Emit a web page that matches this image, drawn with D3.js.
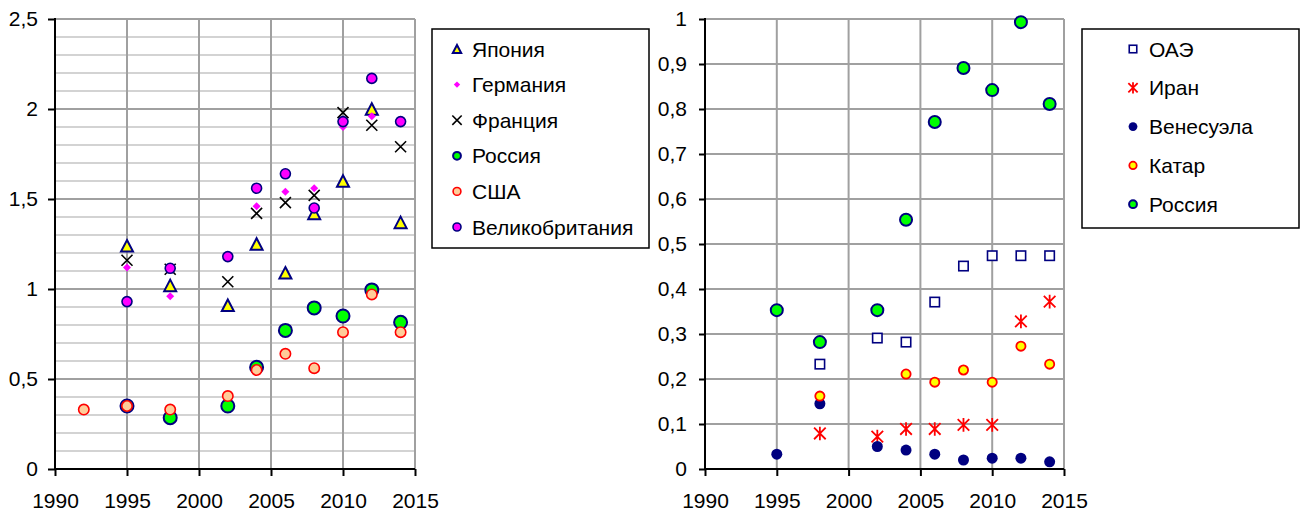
<!DOCTYPE html>
<html>
<head>
<meta charset="utf-8">
<script src="https://cdn.jsdelivr.net/npm/d3@7"></script>
<style>
  body { margin: 0; background: #fff; }
  svg { display: block; font-family: Arial, "Liberation Sans", sans-serif; }
</style>
</head>
<body>
<svg id="chart" width="1303" height="512"></svg>
<script>
// ---- data: left chart ----
const leftYears = [1992, 1995, 1998, 2002, 2004, 2006, 2008, 2010, 2012, 2014];
const japan   = [null, 1.24, 1.02, 0.91, 1.25, 1.09, 1.42, 1.60, 2.00, 1.37];
const germany = [null, 1.12, 0.96, null, 1.46, 1.54, 1.56, 1.90, 1.96, null];
const france  = [null, 1.16, 1.11, 1.04, 1.42, 1.48, 1.52, 1.98, 1.91, 1.79];
const russiaL = [null, 0.35, 0.285, 0.35, 0.565, 0.77, 0.895, 0.85, 0.995, 0.815];
const usa     = [0.33, 0.35, 0.33, 0.405, 0.55, 0.64, 0.56, 0.76, 0.97, 0.76];
const uk      = [null, 0.93, 1.115, 1.18, 1.56, 1.64, 1.45, 1.93, 2.17, 1.93];

// ---- data: right chart ----
const rightYears = [1995, 1998, 2002, 2004, 2006, 2008, 2010, 2012, 2014];
const uae       = [null, 0.233, 0.291, 0.282, 0.371, 0.451, 0.474, 0.474, 0.474];
const iran      = [null, 0.079, 0.072, 0.089, 0.089, 0.098, 0.098, 0.328, 0.372];
const venezuela = [0.033, 0.145, 0.05, 0.042, 0.033, 0.02, 0.024, 0.024, 0.016];
const qatar     = [null, 0.162, null, 0.211, 0.193, 0.22, 0.193, 0.273, 0.233];
const russiaR   = [0.353, 0.282, 0.353, 0.554, 0.771, 0.891, 0.842, 0.993, 0.811];

// tick values
const xTicks = [1990, 1995, 2000, 2005, 2010, 2015];
const leftYTicks = [0, 0.5, 1, 1.5, 2, 2.5];
const rightYTicks = [0, 0.1, 0.2, 0.3, 0.4, 0.5, 0.6, 0.7, 0.8, 0.9, 1];

const svg = d3.select("#chart");
const fmt = v => String(+v.toFixed(2)).replace(".", ",");

// marker drawing
function marker(g, type, st, k) {
  k = k || 1;
  if (type === "circle") {
    g.append("circle").attr("r", st.r * k)
      .attr("fill", st.fill).attr("stroke", st.stroke || "none").attr("stroke-width", st.sw || 0);
  } else if (type === "triangle") {
    const w = 12 * k, h = 11.5 * k;
    g.append("path").attr("d", `M0,${-h / 2}L${w / 2},${h / 2}L${-w / 2},${h / 2}Z`)
      .attr("fill", st.fill).attr("stroke", st.stroke).attr("stroke-width", st.sw).attr("stroke-linejoin", "miter");
  } else if (type === "diamond") {
    const s = 4 * k;
    g.append("path").attr("d", `M0,${-s}L${s},0L0,${s}L${-s},0Z`).attr("fill", st.fill);
  } else if (type === "x") {
    const s = 5.5 * k;
    g.append("path").attr("d", `M${-s},${-s}L${s},${s}M${-s},${s}L${s},${-s}`)
      .attr("stroke", st.stroke).attr("stroke-width", st.sw).attr("fill", "none");
  } else if (type === "square") {
    const s = 4.7 * k;
    g.append("rect").attr("x", -s).attr("y", -s).attr("width", 2 * s).attr("height", 2 * s)
      .attr("fill", "#fff").attr("stroke", st.stroke).attr("stroke-width", st.sw);
  } else if (type === "star") {
    const s = 5.8 * k;
    g.append("path").attr("d", `M${-s},${-s}L${s},${s}M${-s},${s}L${s},${-s}M0,${-s - 1}L0,${s + 1}`)
      .attr("stroke", st.stroke).attr("stroke-width", st.sw).attr("fill", "none");
  }
}

function drawPanel(opt) {
  const x = d3.scaleLinear().domain([1990, 2015]).range([opt.left, opt.right]);
  const y = d3.scaleLinear().domain([0, opt.yMax]).range([opt.bottom, opt.top]);

  const grid = svg.append("g");
  // minor horizontal grid
  if (opt.minor) {
    grid.selectAll(".minor").data(opt.minor).join("line")
      .attr("x1", opt.left).attr("x2", opt.right)
      .attr("y1", d => y(d)).attr("y2", d => y(d))
      .attr("stroke", "#d3d3d3").attr("stroke-width", 2);
  }
  grid.selectAll(".hmaj").data(opt.yTicks.filter(d => d > 0)).join("line")
    .attr("x1", opt.left).attr("x2", opt.right)
    .attr("y1", d => y(d)).attr("y2", d => y(d))
    .attr("stroke", "#a0a0a0").attr("stroke-width", 2);
  grid.selectAll(".vmaj").data(xTicks.filter(d => d > 1990)).join("line")
    .attr("x1", d => x(d)).attr("x2", d => x(d))
    .attr("y1", opt.top).attr("y2", opt.bottom)
    .attr("stroke", "#a0a0a0").attr("stroke-width", 2);

  // axes
  const yAxis = svg.append("g").attr("transform", `translate(${opt.left},0)`)
    .call(d3.axisLeft(y).tickValues(opt.yTicks).tickFormat(fmt).tickSize(opt.yTickSize).tickPadding(opt.yPad));
  const xAxis = svg.append("g").attr("transform", `translate(0,${opt.bottom})`)
    .call(d3.axisBottom(x).tickValues(xTicks).tickFormat(d3.format("d")).tickSize(7).tickPadding(17));
  [yAxis, xAxis].forEach(a => {
    a.select(".domain").attr("stroke", "#000").attr("stroke-width", 2);
    a.selectAll(".tick line").attr("stroke", "#000").attr("stroke-width", 2);
    a.selectAll("text").attr("font-size", 21).attr("fill", "#000")
      .attr("font-family", "Arial, 'Liberation Sans', sans-serif");
  });
  yAxis.select(".domain").attr("d", `M0,${opt.bottom}V${opt.top - 1}`);
  xAxis.select(".domain").attr("d", `M${opt.left - 1},0H${opt.right}`);

  // series markers
  opt.series.forEach(s => {
    const pts = opt.years.map((yr, i) => ({ yr, v: s.values[i] })).filter(d => d.v != null);
    const g = svg.append("g");
    pts.forEach(p => {
      const m = g.append("g").attr("transform", `translate(${x(p.yr)},${y(p.v)})`);
      marker(m, s.type, s.style);
    });
  });

  // legend
  const lg = svg.append("g");
  lg.append("rect").attr("x", opt.legend.x).attr("y", opt.legend.y)
    .attr("width", opt.legend.w).attr("height", opt.legend.h)
    .attr("fill", "#fff").attr("stroke", "#000").attr("stroke-width", 1.5);
  opt.series.forEach((s, i) => {
    const yy = opt.legend.y0 + i * opt.legend.step;
    const m = lg.append("g").attr("transform", `translate(${opt.legend.mx},${yy})`);
    marker(m, s.type, s.style, s.lk);
    lg.append("text").attr("x", opt.legend.tx).attr("y", yy).attr("dy", "0.36em")
      .attr("font-size", 21).attr("fill", "#000").text(s.name);
  });
}

drawPanel({
  left: 55, right: 415, top: 19, bottom: 469, yMax: 2.5,
  yTicks: leftYTicks, yTickSize: 7, yPad: 10,
  minor: d3.range(1, 25).filter(i => i % 5 !== 0).map(i => i / 10),
  years: leftYears,
  series: [
    { name: "Япония", values: japan, type: "triangle", lk: 0.7,
      style: { fill: "#ffff00", stroke: "#000080", sw: 2 } },
    { name: "Германия", values: germany, type: "diamond", lk: 0.8,
      style: { fill: "#ff00ff" } },
    { name: "Франция", values: france, type: "x", lk: 0.85,
      style: { stroke: "#000", sw: 1.6 } },
    { name: "Россия", values: russiaL, type: "circle", lk: 0.6,
      style: { fill: "#00ff00", stroke: "#000080", r: 6.5, sw: 2 } },
    { name: "США", values: usa, type: "circle", lk: 0.75,
      style: { fill: "#ffcc99", stroke: "#ff0000", r: 5.2, sw: 1.6 } },
    { name: "Великобритания", values: uk, type: "circle", lk: 0.8,
      style: { fill: "#ff00ff", stroke: "#000080", r: 5, sw: 1.6 } }
  ],
  legend: { x: 432, y: 29, w: 217, h: 219, y0: 49, step: 35.6, mx: 457, tx: 472 }
});

drawPanel({
  left: 705, right: 1064, top: 19, bottom: 469, yMax: 1,
  yTicks: rightYTicks, yTickSize: 6, yPad: 12,
  minor: null,
  years: rightYears,
  series: [
    { name: "ОАЭ", values: uae, type: "square", lk: 0.8,
      style: { stroke: "#000080", sw: 1.6 } },
    { name: "Иран", values: iran, type: "star", lk: 0.8,
      style: { stroke: "#ff0000", sw: 1.8 } },
    { name: "Венесуэла", values: venezuela, type: "circle", lk: 0.8,
      style: { fill: "#000080", r: 5.5 } },
    { name: "Катар", values: qatar, type: "circle", lk: 0.8,
      style: { fill: "#ffff00", stroke: "#ff0000", r: 4.6, sw: 1.8 } },
    { name: "Россия", values: russiaR, type: "circle", lk: 0.65,
      style: { fill: "#00ff00", stroke: "#000080", r: 6, sw: 2 } }
  ],
  legend: { x: 1082, y: 29, w: 217, h: 199, y0: 49, step: 38.8, mx: 1133, tx: 1149 }
});
</script>
</body>
</html>
